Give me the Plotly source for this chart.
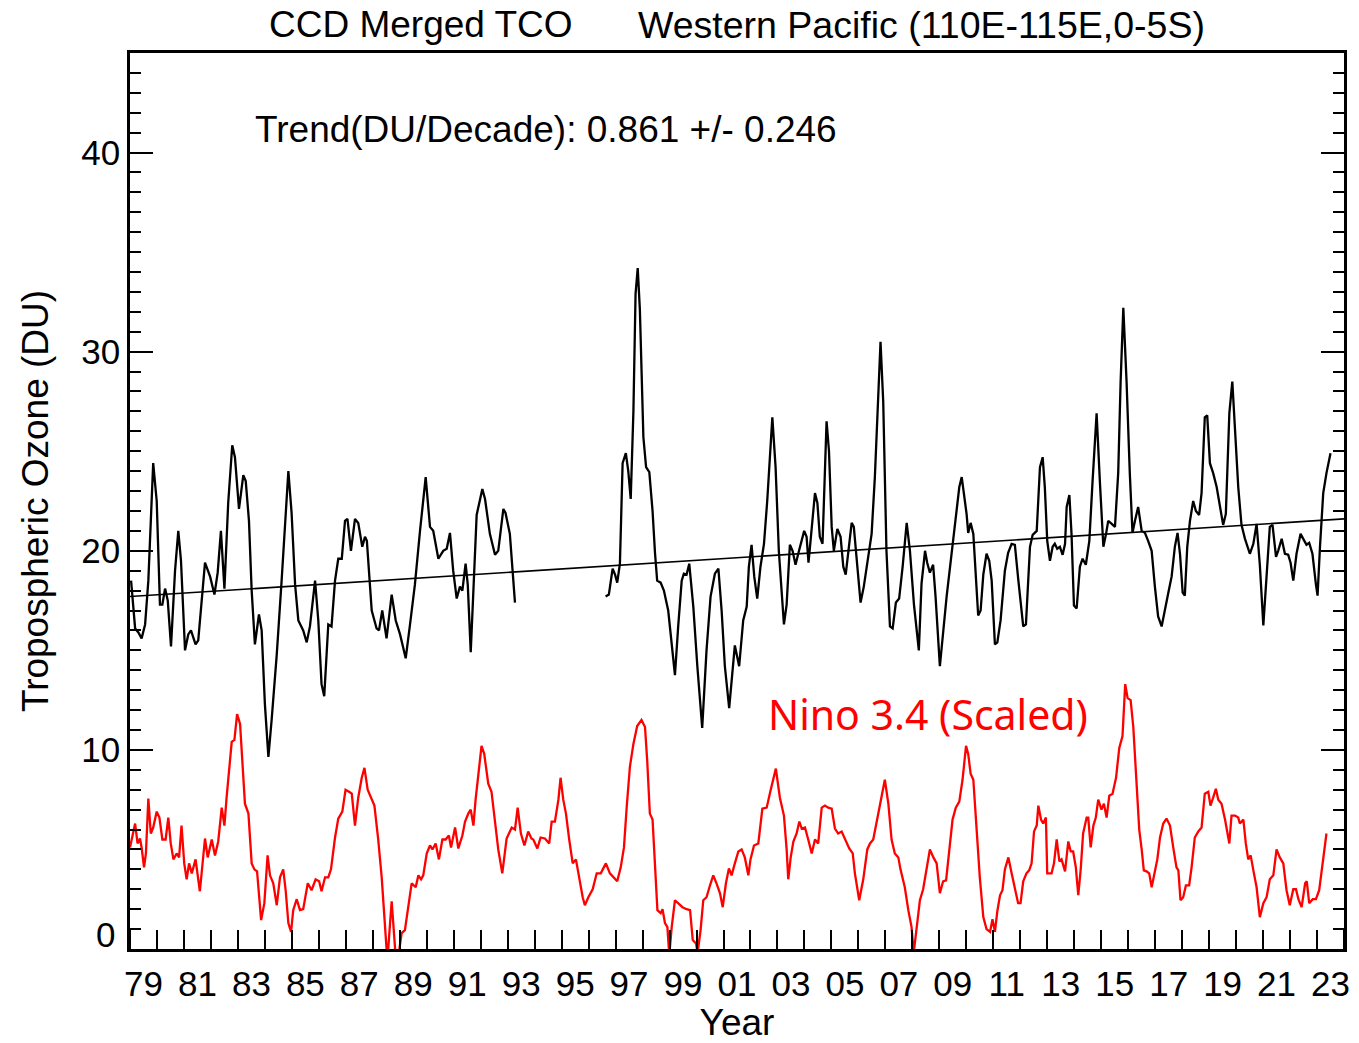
import plotly.graph_objects as go

# ---------------- data ----------------
tco_years_a = [1979.04, 1979.19, 1979.31, 1979.43, 1979.56, 1979.68, 1979.86, 1979.99, 1980.11, 1980.20,
               1980.30, 1980.40, 1980.52, 1980.67, 1980.79, 1980.89, 1981.04, 1981.16, 1981.26, 1981.43,
               1981.53, 1981.78, 1981.97, 1982.13, 1982.25, 1982.37, 1982.50, 1982.64, 1982.79, 1982.89,
               1983.04, 1983.20, 1983.29, 1983.41, 1983.51, 1983.63, 1983.78, 1983.88, 1984.00, 1984.13,
               1984.25, 1984.44, 1984.62, 1984.87, 1984.99, 1985.12, 1985.24, 1985.42, 1985.55, 1985.67,
               1985.86, 1985.98, 1986.10, 1986.20, 1986.35, 1986.47, 1986.60, 1986.72, 1986.85, 1986.97,
               1987.06, 1987.19, 1987.34, 1987.46, 1987.61, 1987.71, 1987.78, 1987.96, 1988.14, 1988.23,
               1988.35, 1988.51, 1988.70, 1988.85, 1989.01, 1989.22, 1989.38, 1989.56, 1989.75, 1989.96,
               1990.12, 1990.24, 1990.43, 1990.61, 1990.74, 1990.86, 1990.98, 1991.11, 1991.23, 1991.32,
               1991.44, 1991.52, 1991.63, 1991.73, 1991.85, 1992.06, 1992.16, 1992.34, 1992.53, 1992.65,
               1992.84, 1992.92, 1993.08, 1993.27]
tco_values_a = [18.5, 16.1, 15.9, 15.6, 16.3, 18.5, 24.4, 22.5, 17.3, 17.3,
                18.1, 17.5, 15.2, 19.0, 21.0, 19.5, 15.0, 15.8, 16.0, 15.3,
                15.5, 19.4, 18.7, 17.8, 18.9, 21.0, 18.1, 22.4, 25.3, 24.7,
                22.1, 23.8, 23.5, 21.5, 18.0, 15.3, 16.8, 16.0, 12.3, 9.65,
                11.5, 14.8, 18.5, 24.0, 21.9, 18.3, 16.5, 16.0, 15.4, 16.2,
                18.5, 16.5, 13.3, 12.7, 16.3, 16.2, 18.5, 19.6, 19.6, 21.5,
                21.6, 20.0, 21.6, 21.4, 20.2, 20.7, 20.5, 17.0, 16.1, 16.0,
                17.0, 15.6, 17.8, 16.5, 15.8, 14.6, 16.3, 18.3, 21.0, 23.7,
                21.2, 21.0, 19.6, 20.0, 20.1, 20.9, 19.0, 17.6, 18.2, 18.0,
                19.35, 18.3, 14.9, 18.0, 21.8, 23.1, 22.6, 20.85, 19.8, 20.0,
                22.1, 21.9, 20.85, 17.4]

tco_years_b = [1996.63, 1996.75, 1996.89, 1996.98, 1997.06, 1997.16, 1997.26, 1997.38, 1997.47, 1997.56,
               1997.66, 1997.74, 1997.82, 1997.90, 1998.03, 1998.13, 1998.25, 1998.37, 1998.46, 1998.54,
               1998.67, 1998.79, 1998.95, 1999.08, 1999.20, 1999.32, 1999.45, 1999.53, 1999.63, 1999.73,
               1999.88, 2000.03, 2000.21, 2000.37, 2000.52, 2000.68, 2000.81, 2000.93, 2001.05, 2001.21,
               2001.34, 2001.42, 2001.58, 2001.73, 2001.86, 2001.94, 2002.04, 2002.14, 2002.25, 2002.37,
               2002.50, 2002.62, 2002.81, 2002.93, 2003.05, 2003.24, 2003.34, 2003.46, 2003.56, 2003.67,
               2003.77, 2003.89, 2003.99, 2004.08, 2004.15, 2004.24, 2004.39, 2004.48, 2004.57, 2004.67,
               2004.76, 2004.82, 2004.91, 2005.01, 2005.09, 2005.22, 2005.34, 2005.44, 2005.53, 2005.62,
               2005.75, 2005.83, 2005.93, 2006.08, 2006.20, 2006.37, 2006.49, 2006.61, 2006.82, 2006.92,
               2007.04, 2007.17, 2007.27, 2007.39, 2007.51, 2007.64, 2007.79, 2007.91, 2008.06, 2008.24,
               2008.34, 2008.47, 2008.55, 2008.65, 2008.77, 2008.86, 2009.02, 2009.27, 2009.45, 2009.64,
               2009.74, 2009.83, 2009.91, 2010.01, 2010.07, 2010.16, 2010.26, 2010.36, 2010.44, 2010.53,
               2010.63, 2010.75, 2010.85, 2010.94, 2011.06, 2011.15, 2011.27, 2011.43, 2011.55, 2011.68,
               2011.80, 2011.93, 2012.11, 2012.21, 2012.36, 2012.46, 2012.61, 2012.73, 2012.83, 2012.91,
               2013.00, 2013.10, 2013.20, 2013.28, 2013.37, 2013.47, 2013.57, 2013.66, 2013.72, 2013.82,
               2013.90, 2013.99, 2014.09, 2014.21, 2014.31, 2014.43, 2014.56, 2014.68, 2014.83, 2014.95,
               2015.08, 2015.18, 2015.26, 2015.39, 2015.51, 2015.63, 2015.72, 2015.82, 2015.94, 2016.06,
               2016.16, 2016.25, 2016.37, 2016.50, 2016.62, 2016.74, 2016.87, 2016.99, 2017.11, 2017.24,
               2017.36, 2017.49, 2017.61, 2017.73, 2017.83, 2017.92, 2018.02, 2018.10, 2018.19, 2018.29,
               2018.41, 2018.51, 2018.63, 2018.72, 2018.84, 2018.93, 2019.03, 2019.15, 2019.28, 2019.40,
               2019.52, 2019.62, 2019.75, 2019.86, 2019.96, 2020.08, 2020.20, 2020.33, 2020.51, 2020.64,
               2020.76, 2020.88, 2021.01, 2021.13, 2021.25, 2021.35, 2021.48, 2021.56, 2021.69, 2021.81,
               2021.93, 2022.02, 2022.12, 2022.24, 2022.39, 2022.49, 2022.61, 2022.71, 2022.83, 2022.96,
               2023.02, 2023.11, 2023.23, 2023.35, 2023.50]
tco_values_b = [17.7, 17.8, 19.1, 18.8, 18.4, 19.35, 24.4, 24.9, 24.0, 22.6,
                27.0, 32.9, 34.2, 32.1, 25.7, 24.2, 23.95, 22.0, 19.9, 18.5,
                18.4, 18.0, 17.0, 15.3, 13.75, 16.2, 18.5, 18.85, 18.8, 19.35,
                17.2, 14.2, 11.1, 15.0, 17.7, 18.85, 19.1, 17.0, 14.2, 12.1,
                14.2, 15.25, 14.2, 16.5, 17.2, 19.2, 20.3, 18.7, 17.6, 19.2,
                20.35, 22.5, 26.7, 24.2, 20.0, 16.3, 17.3, 20.3, 20.0, 19.3,
                19.85, 20.5, 21.0, 20.7, 19.4, 20.7, 22.9, 22.4, 20.7, 20.35,
                24.4, 26.5, 25.0, 21.2, 20.0, 21.1, 20.7, 19.2, 18.8, 20.0,
                21.4, 21.2, 19.5, 17.4, 18.2, 19.7, 20.85, 23.7, 30.5, 27.5,
                20.0, 16.2, 16.1, 17.4, 17.6, 19.2, 21.4, 20.0, 17.3, 15.0,
                18.35, 20.0, 19.4, 18.9, 19.3, 17.7, 14.2, 17.7, 19.7, 21.85,
                23.2, 23.7, 22.9, 21.85, 20.9, 21.4, 20.85, 18.5, 16.75, 17.0,
                18.8, 19.85, 19.5, 18.5, 15.3, 15.4, 16.5, 19.0, 19.9, 20.35,
                20.3, 18.5, 16.2, 16.3, 20.2, 20.8, 21.0, 24.2, 24.7, 23.2,
                20.5, 19.5, 20.2, 20.35, 20.1, 20.2, 19.8, 20.35, 22.2, 22.8,
                20.85, 17.25, 17.1, 19.2, 19.6, 19.3, 20.5, 23.5, 26.9, 23.5,
                20.2, 20.85, 21.5, 21.35, 21.2, 23.9, 28.5, 32.2, 28.5, 23.9,
                20.9, 21.5, 22.2, 21.0, 20.9, 20.5, 20.0, 18.2, 16.7, 16.2,
                17.1, 17.9, 18.7, 20.2, 20.9, 19.85, 17.9, 17.75, 20.2, 21.5,
                22.5, 22.0, 21.8, 22.9, 26.7, 26.8, 24.4, 23.9, 23.2, 22.2,
                21.3, 21.85, 26.9, 28.5, 26.0, 23.2, 21.3, 20.6, 19.85, 20.35,
                21.35, 19.3, 16.25, 18.5, 21.2, 21.3, 19.7, 20.0, 20.6, 19.85,
                19.8, 19.4, 18.5, 19.85, 20.85, 20.6, 20.3, 20.4, 19.85, 18.3,
                17.75, 20.2, 22.9, 23.9, 24.9]

nino_years = [1979.00, 1979.09, 1979.19, 1979.28, 1979.37, 1979.43, 1979.52, 1979.59, 1979.68, 1979.77,
              1979.86, 1979.99, 1980.09, 1980.20, 1980.32, 1980.42, 1980.51, 1980.61, 1980.73, 1980.82,
              1980.91, 1981.01, 1981.10, 1981.19, 1981.29, 1981.43, 1981.59, 1981.78, 1981.88, 1982.03,
              1982.15, 1982.27, 1982.40, 1982.50, 1982.58, 1982.77, 1982.87, 1982.97, 1983.08, 1983.26,
              1983.39, 1983.51, 1983.61, 1983.71, 1983.86, 1983.98, 1984.10, 1984.19, 1984.31, 1984.44,
              1984.56, 1984.68, 1984.77, 1984.87, 1984.97, 1985.05, 1985.18, 1985.30, 1985.42, 1985.59,
              1985.73, 1985.88, 1986.01, 1986.10, 1986.23, 1986.35, 1986.45, 1986.60, 1986.72, 1986.87,
              1986.99, 1987.12, 1987.22, 1987.34, 1987.46, 1987.59, 1987.69, 1987.81, 1987.93, 1988.06,
              1988.20, 1988.33, 1988.43, 1988.54, 1988.64, 1988.70, 1988.88, 1989.07, 1989.19, 1989.32,
              1989.44, 1989.59, 1989.69, 1989.79, 1989.87, 1990.00, 1990.12, 1990.21, 1990.33, 1990.45,
              1990.58, 1990.70, 1990.82, 1990.90, 1991.05, 1991.17, 1991.32, 1991.42, 1991.54, 1991.63,
              1991.73, 1991.81, 1992.03, 1992.13, 1992.28, 1992.40, 1992.53, 1992.65, 1992.80, 1992.96,
              1993.15, 1993.27, 1993.37, 1993.49, 1993.62, 1993.76, 1993.88, 1993.95, 1994.10, 1994.22,
              1994.38, 1994.54, 1994.63, 1994.75, 1994.88, 1994.96, 1995.06, 1995.16, 1995.28, 1995.41,
              1995.53, 1995.65, 1995.78, 1995.86, 1995.99, 1996.15, 1996.30, 1996.45, 1996.64, 1996.79,
              1996.91, 1997.06, 1997.19, 1997.31, 1997.41, 1997.53, 1997.66, 1997.80, 1997.96, 1998.09,
              1998.17, 1998.27, 1998.37, 1998.46, 1998.55, 1998.67, 1998.74, 1998.83, 1998.92, 1998.99,
              1999.08, 1999.20, 1999.32, 1999.48, 1999.63, 1999.76, 1999.86, 1999.98, 2000.04, 2000.15,
              2000.25, 2000.37, 2000.50, 2000.62, 2000.74, 2000.87, 2000.97, 2001.09, 2001.20, 2001.30,
              2001.42, 2001.55, 2001.67, 2001.79, 2001.92, 2002.00, 2002.13, 2002.29, 2002.44, 2002.60,
              2002.75, 2002.94, 2003.09, 2003.24, 2003.34, 2003.40, 2003.49, 2003.59, 2003.71, 2003.81,
              2003.90, 2004.02, 2004.14, 2004.27, 2004.39, 2004.51, 2004.64, 2004.76, 2004.88, 2005.01,
              2005.13, 2005.25, 2005.38, 2005.50, 2005.66, 2005.79, 2005.87, 2006.03, 2006.18, 2006.33,
              2006.43, 2006.55, 2006.70, 2006.86, 2006.98, 2007.11, 2007.23, 2007.35, 2007.48, 2007.56,
              2007.72, 2007.85, 2007.97, 2008.05, 2008.18, 2008.28, 2008.40, 2008.53, 2008.65, 2008.78,
              2008.90, 2009.02, 2009.14, 2009.25, 2009.37, 2009.49, 2009.61, 2009.74, 2009.86, 2009.99,
              2010.07, 2010.16, 2010.26, 2010.38, 2010.50, 2010.63, 2010.75, 2010.88, 2010.97, 2011.06,
              2011.15, 2011.25, 2011.34, 2011.43, 2011.56, 2011.68, 2011.80, 2011.92, 2012.01, 2012.11,
              2012.23, 2012.33, 2012.42, 2012.51, 2012.61, 2012.67, 2012.77, 2012.85, 2012.95, 2013.00,
              2013.16, 2013.25, 2013.35, 2013.45, 2013.53, 2013.66, 2013.78, 2013.87, 2013.96, 2014.06,
              2014.15, 2014.24, 2014.33, 2014.46, 2014.52, 2014.61, 2014.71, 2014.80, 2014.89, 2015.01,
              2015.10, 2015.20, 2015.30, 2015.42, 2015.55, 2015.67, 2015.79, 2015.89, 2015.98, 2016.09,
              2016.19, 2016.31, 2016.41, 2016.50, 2016.58, 2016.68, 2016.78, 2016.87, 2016.99, 2017.08,
              2017.18, 2017.30, 2017.42, 2017.55, 2017.67, 2017.79, 2017.86, 2017.94, 2018.04, 2018.14,
              2018.26, 2018.35, 2018.47, 2018.60, 2018.72, 2018.84, 2018.97, 2019.05, 2019.15, 2019.25,
              2019.34, 2019.46, 2019.59, 2019.75, 2019.83, 2019.96, 2020.08, 2020.14, 2020.27, 2020.36,
              2020.45, 2020.54, 2020.64, 2020.76, 2020.88, 2021.01, 2021.13, 2021.25, 2021.38, 2021.50,
              2021.62, 2021.75, 2021.87, 2021.99, 2022.12, 2022.22, 2022.31, 2022.43, 2022.56, 2022.62,
              2022.71, 2022.84, 2022.96, 2023.08, 2023.17, 2023.35]
nino_values = [5.1, 5.6, 6.3, 5.3, 5.55, 5.1, 4.1, 4.8, 7.55, 5.8,
               6.1, 6.9, 6.6, 5.5, 5.5, 6.6, 5.3, 4.5, 4.8, 4.6,
               6.2, 4.3, 3.5, 4.3, 3.8, 4.5, 2.9, 5.55, 4.6, 5.5,
               4.7, 5.4, 7.1, 6.2, 7.6, 10.4, 10.5, 11.8, 11.3, 7.3,
               6.8, 4.3, 4.0, 3.9, 1.45, 2.3, 4.7, 3.7, 3.3, 2.2,
               3.6, 4.0, 2.95, 1.3, 0.86, 1.95, 2.5, 1.95, 2.0, 3.3,
               2.95, 3.5, 3.4, 2.9, 3.6, 3.6, 4.0, 5.6, 6.55, 6.9,
               8.0, 7.9, 7.8, 6.2, 7.6, 8.6, 9.1, 8.0, 7.6, 7.2,
               5.5, 3.6, 1.6, -0.6, 1.3, 2.4, -1.0, 0.8, 0.95, 2.3,
               3.3, 3.1, 3.7, 3.5, 3.7, 4.8, 5.2, 5.0, 5.3, 4.5,
               5.5, 5.5, 5.7, 5.1, 6.1, 5.05, 5.7, 6.4, 6.8, 7.0,
               6.2, 7.5, 10.2, 9.8, 8.3, 7.9, 6.3, 5.0, 3.8, 5.55,
               6.1, 6.0, 7.1, 5.8, 5.2, 5.9, 5.55, 5.5, 5.05, 5.6,
               5.55, 5.3, 6.4, 6.4, 7.5, 8.6, 7.5, 6.8, 5.5, 4.3,
               4.5, 3.5, 2.6, 2.2, 2.6, 3.0, 3.8, 3.8, 4.3, 3.8,
               3.6, 3.4, 4.1, 5.1, 7.1, 9.15, 10.3, 11.2, 11.5, 11.15,
               9.5, 6.8, 6.5, 4.1, 1.95, 1.8, 2.0, 1.3, 1.1, -0.3,
               1.1, 2.45, 2.3, 2.1, 2.0, 1.95, 0.45, 0.28, -0.2, 0.95,
               2.45, 2.6, 3.2, 3.7, 3.3, 2.8, 2.1, 3.3, 4.05, 3.7,
               4.3, 4.9, 5.0, 4.6, 3.7, 4.5, 5.2, 5.3, 7.05, 7.1,
               8.0, 9.06, 7.6, 6.7, 5.0, 3.5, 4.6, 5.4, 5.8, 6.4,
               6.05, 6.1, 5.5, 4.8, 5.5, 5.3, 7.1, 7.2, 7.1, 7.05,
               6.05, 5.8, 5.9, 5.5, 5.05, 4.8, 3.8, 2.45, 3.5, 5.0,
               5.3, 5.5, 6.6, 7.6, 8.5, 7.3, 5.5, 4.8, 4.6, 4.0,
               3.1, 1.95, 1.1, -0.2, 1.45, 2.45, 3.0, 4.0, 5.0, 4.6,
               4.3, 2.8, 3.4, 3.45, 5.1, 6.5, 7.1, 7.4, 8.5, 10.2,
               9.8, 8.8, 8.5, 6.1, 3.6, 1.6, 1.0, 0.86, 1.5, 0.86,
               1.9, 2.7, 2.95, 4.0, 4.6, 3.8, 3.1, 2.3, 2.3, 3.4,
               3.8, 3.95, 4.3, 5.9, 6.2, 7.2, 6.5, 6.3, 6.6, 3.8,
               3.8, 4.3, 5.5, 4.4, 4.5, 3.9, 5.4, 4.9, 4.9, 4.1,
               2.7, 4.0, 5.8, 6.6, 6.6, 5.1, 6.2, 6.6, 7.5, 7.0,
               7.3, 6.6, 7.7, 7.8, 8.6, 10.1, 10.7, 13.3, 12.6, 12.5,
               11.15, 8.5, 6.0, 5.0, 3.95, 3.9, 3.8, 3.1, 3.95, 4.5,
               5.6, 6.3, 6.55, 6.2, 5.1, 4.1, 3.95, 2.45, 2.6, 3.2,
               3.2, 4.1, 5.6, 5.9, 6.1, 7.8, 7.9, 7.2, 7.6, 8.05,
               7.5, 7.3, 6.5, 5.3, 6.7, 6.7, 6.6, 6.3, 6.5, 5.3,
               4.5, 4.7, 3.95, 3.1, 1.6, 2.3, 2.6, 3.5, 3.7, 5.0,
               4.6, 4.3, 2.95, 2.2, 3.0, 3.0, 2.5, 2.1, 3.3, 3.4,
               2.3, 2.5, 2.5, 2.95, 3.9, 5.8]

trend_years = [1979.0, 2024.0]
trend_values = [17.7, 21.6]

x_tick_positions = [1979.5 + 2 * i for i in range(23)]
x_tick_labels = ["79", "81", "83", "85", "87", "89", "91", "93", "95", "97", "99", "01",
                 "03", "05", "07", "09", "11", "13", "15", "17", "19", "21", "23"]
y_tick_values = [10, 20, 30, 40]
y_tick_labels = ["10", "20", "30", "40"]

FONT = "Liberation Sans, Arial, Helvetica, sans-serif"

fig = go.Figure()
fig.add_trace(go.Scatter(x=tco_years_a, y=tco_values_a, mode="lines",
                         line=dict(color="black", width=2.3), showlegend=False))
fig.add_trace(go.Scatter(x=tco_years_b, y=tco_values_b, mode="lines",
                         line=dict(color="black", width=2.3), showlegend=False))
fig.add_trace(go.Scatter(x=trend_years, y=trend_values, mode="lines",
                         line=dict(color="black", width=1.6), showlegend=False))
fig.add_trace(go.Scatter(x=nino_years, y=nino_values, mode="lines",
                         line=dict(color="#ff0000", width=2.3), showlegend=False))

fig.update_layout(
    width=1359, height=1043,
    margin=dict(l=130, r=15, t=53, b=94, autoexpand=False),
    paper_bgcolor="white", plot_bgcolor="white",
    font=dict(family=FONT, color="black", size=35),
    showlegend=False,
)

fig.update_xaxes(
    range=[1979, 2024], automargin=False,
    tickmode="array", tickvals=x_tick_positions, ticktext=x_tick_labels,
    ticks="", showgrid=False, zeroline=False,
    showline=True, linecolor="black", linewidth=2.5, mirror=True,
    tickfont=dict(size=35), ticklabelstandoff=2,
    minor=dict(tickmode="linear", tick0=1979, dtick=1, ticks="inside",
               ticklen=19, tickwidth=2, tickcolor="black", showgrid=False),
    title=dict(text="Year", font=dict(size=37), standoff=15),
)
fig.update_yaxes(
    range=[0, 45], automargin=False,
    tickmode="array", tickvals=y_tick_values, ticktext=y_tick_labels,
    ticks="inside", ticklen=23, tickwidth=2, tickcolor="black",
    showgrid=False, zeroline=False,
    showline=True, linecolor="black", linewidth=2.5, mirror="ticks",
    tickfont=dict(size=35),
    minor=dict(tickmode="linear", tick0=0, dtick=1, ticks="inside",
               ticklen=11, tickwidth=2, tickcolor="black", showgrid=False),
    title=dict(text="Tropospheric Ozone (DU)", font=dict(size=37), standoff=22),
)

# zero label (placed slightly above the axis as in the reference)
fig.add_annotation(x=-0.0107, y=0.75, xref="paper", yref="y", text="0",
                   showarrow=False, xanchor="right", yanchor="middle",
                   font=dict(family=FONT, size=35, color="black"))

fig.add_annotation(x=0.2397, y=1.0313, xref="paper", yref="paper",
                   text="CCD Merged TCO", showarrow=False,
                   xanchor="center", yanchor="middle",
                   font=dict(family=FONT, size=37, color="black"))
fig.add_annotation(x=0.6516, y=1.0313, xref="paper", yref="paper",
                   text="Western Pacific (110E-115E,0-5S)", showarrow=False,
                   xanchor="center", yanchor="middle",
                   font=dict(family=FONT, size=37.5, color="black"))
fig.add_annotation(x=0.1013, y=0.9141, xref="paper", yref="paper",
                   text="Trend(DU/Decade): 0.861 +/- 0.246", showarrow=False,
                   xanchor="left", yanchor="middle",
                   font=dict(family=FONT, size=37, color="black"))
fig.add_annotation(x=0.5239, y=0.262, xref="paper", yref="paper",
                   text="Nino 3.4 (Scaled)", showarrow=False,
                   xanchor="left", yanchor="middle",
                   font=dict(family="Noto Sans, Open Sans, sans-serif", size=41, color="#ff0000"))

fig.write_html("out.html")
